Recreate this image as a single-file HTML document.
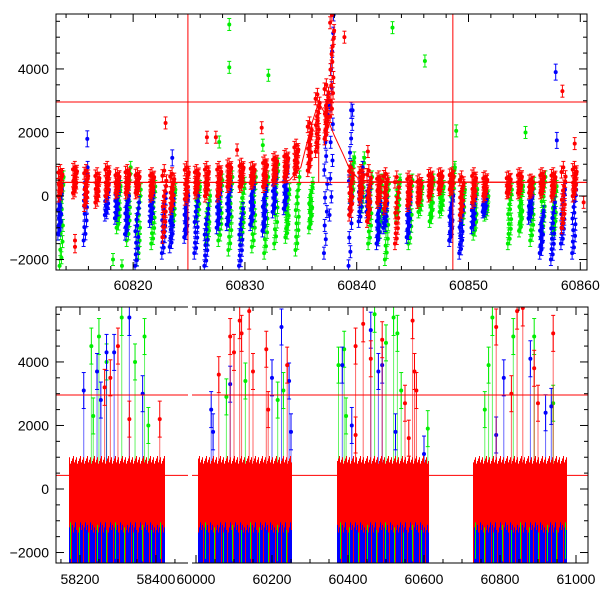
<!DOCTYPE html>
<html><head><meta charset="utf-8"><style>
html,body{margin:0;padding:0;background:#fff;}
svg text{font-family:"Liberation Sans",sans-serif;font-size:14px;fill:#000;}
</style></head><body>
<svg id="chart" width="600" height="600" viewBox="0 0 600 600" xmlns="http://www.w3.org/2000/svg">
<g id="topPanel"></g>
<g id="botPanel"></g>
</svg>
<script>
// ---------- TOP PANEL DATA ----------
const topNightMjd = [60813.5,60814.8,60815.8,60816.8,60817.7,60818.6,60819.5,60820.4,60821.7,60822.8,60823.5,60824.8,60825.7,60826.6,60827.7,60828.6,60829.7,60830.7,60831.8,60832.7,60833.7,60834.6,60835.8,60836.5,60837.3,60837.8,60839.5,60840.4,60841.1,60842.0,60842.6,60843.6,60844.7,60845.6,60846.6,60847.5,60848.5,60849.4,60850.5,60851.5,60853.6,60854.6,60855.6,60856.6,60857.6,60858.5,60859.5];
const topRedRange = [[0,800],[100,900],[-300,800],[-200,700],[0,900],[100,700],[100,800],[100,700],[0,700],[-1300,800],[-400,700],[-100,900],[100,800],[0,900],[0,900],[300,1000],[300,1000],[400,900],[300,1100],[500,1200],[600,1300],[700,1600],[800,2300],[1400,3200],[1800,3500],[2500,5700],[-600,900],[-100,800],[-800,800],[-200,600],[-400,700],[-1500,600],[-300,600],[-200,500],[0,700],[200,700],[200,700],[-600,600],[-200,700],[0,600],[100,600],[100,700],[100,500],[100,700],[0,700],[-1000,900],[0,900]];
const topGreenRange = [[-2200,600],null,null,null,null,[-1000,300],[-1400,900],[-2000,200],[-1500,300],null,[-900,200],null,[-700,300],[-1500,0],[-1400,500],[-1700,600],[-1300,400],[-1600,600],[-1800,600],[-1500,1000],[-1300,200],[-1700,600],[-1000,400],null,null,null,[-200,1200],[-500,1200],[-1500,600],[-1300,500],[-2000,400],[-600,500],[-1500,500],[-500,300],[-800,500],[-500,300],[0,900],[-800,200],[-1200,200],[-600,0],[-1500,200],[-1100,300],[-1400,400],[-1100,600],[-1200,300],null,null];
const topBlueRange = [[-1200,200],null,[-1400,900],null,[-600,200],[-700,300],[-1200,0],[-2200,-200],[-800,100],[-1800,100],[-1600,-100],[-1300,0],[-1800,0],[-2200,-400],[-1000,200],[-900,300],[-2200,-400],[-900,400],[-1100,300],[-500,700],[-400,900],null,null,null,[-1800,3000],[-600,5700],[-2200,2700],[-800,900],[-500,400],[-1500,-200],[-1000,-200],null,[-1300,0],null,null,null,[-1400,0],[-1800,-300],[-1000,0],[-500,-100],null,null,[-700,0],[-1800,-500],[-2000,-200],[-1500,200],[-1800,200]];
const topRedOutliers = [[60814.8,-1400],[60814.8,-1600],[60822.9,2300],[60831.5,2150],[60826.6,1850],[60827.4,1850],[60829.3,1450],[60841.0,1400],[60858.4,3300],[60859.5,1650],[60838.9,5000],[60860.3,-200]];
const topGreenOutliers = [[60828.6,5400],[60828.6,4050],[60832.1,3800],[60827.7,1700],[60831.6,1600],[60843.2,5300],[60846.1,4250],[60848.9,2050],[60855.1,2000],[60819.0,-2200],[60818.2,-2000]];
const topBlueOutliers = [[60815.9,1800],[60823.5,1200],[60857.8,3900],[60857.9,1750],[60839.5,2700]];
const modelMjd = [60813.1,60833.0,60834.0,60835.0,60835.5,60836.0,60836.6,60837.3,60838.0,60838.8,60839.3,60840.0,60841.0,60860.6];
const modelVal = [430,430,500,900,1600,2300,2960,2500,1900,1300,900,600,450,430];
const topHLines = [2960,430];
const topVLines = [60824.9,60848.6];

// ---------- BOTTOM PANEL DATA ----------
const seasonStart = [58170,60005,60370,60730];
const seasonEnd = [58420,60250,60610,60975];
const blueBand = [-2330,-600];
const greenBand = [-2200,-800];
const redBand = [-1050,800];
const botRedSpikes = [[58265,3200],[58280,3500],[58300,4500],[58330,2200],[58410,2200],[60090,4800],[60100,4300],[60115,5300],[60120,4900],[60140,5600],[60150,3700],[60185,4400],[60190,2500],[60240,3900],[60060,3600],[60420,4500],[60440,5200],[60460,4100],[60490,4700],[60550,2700],[60570,5300],[60575,3700],[60580,3100],[60790,5100],[60830,3000],[60845,5600],[60860,5700],[60890,3800],[60900,2700],[60940,4900],[60560,1600],[60420,1700]];
const botGreenSpikes = [[58230,4500],[58250,4800],[58270,4000],[58310,5400],[58345,4000],[58370,4800],[58380,2000],[58235,2300],[60130,3400],[60230,3100],[60215,2800],[60080,2900],[60375,3900],[60390,4400],[60395,2300],[60470,5500],[60500,4600],[60520,5400],[60530,4900],[60540,3100],[60610,1900],[60770,3900],[60780,5400],[60835,4800],[60890,4800],[60760,2500],[60940,2700]];
const botBlueSpikes = [[58210,3100],[58245,3700],[58255,2800],[58270,4300],[58290,4300],[58330,5400],[58365,3000],[60040,2500],[60045,1800],[60090,3300],[60200,3500],[60225,5100],[60245,3400],[60250,1800],[60385,3900],[60410,2000],[60460,5000],[60480,3700],[60490,3900],[60525,1800],[60600,1100],[60790,1700],[60810,3500],[60880,4100],[60920,2400],[60935,2600]];
const botHLines = [2960,430];

// ---------- HELPERS ----------
const NS = 'http://www.w3.org/2000/svg';
const COL = {r:'#ff0000', g:'#00ee00', b:'#0000ff'};
function mk(parent, tag, attrs){
  const e = document.createElementNS(NS, tag);
  for (const k in attrs) e.setAttribute(k, attrs[k]);
  parent.appendChild(e);
  return e;
}
const T = {x0:56, x1:587, y0:14, y1:270, mMin:60813.1, mMax:60860.6, vMin:-2330, vMax:5730};
function txTop(m){ return T.x0 + (m - T.mMin) / (T.mMax - T.mMin) * (T.x1 - T.x0); }
function tyTop(v){ return T.y1 - (v - T.vMin) / (T.vMax - T.vMin) * (T.y1 - T.y0); }
const B = {x0:56, x1:588, y0:307, y1:563, vMin:-2330, vMax:5730};
function txBot(m){
  if (m < 59000) return 56 + (m - 58137) * 0.38;
  return 192 + (m - 59989.5) * 0.38;
}
function tyBot(v){ return B.y1 - (v - B.vMin) / (B.vMax - B.vMin) * (B.y1 - B.y0); }
function clampY(y, y0, y1){ return Math.max(y0, Math.min(y1, y)); }

function errPoint(g, x, y, err, color, y0, y1, name){
  const ya = clampY(y - err, y0, y1), yb = clampY(y + err, y0, y1);
  const grp = mk(g, 'g', {});
  
  
  mk(grp, 'line', {x1:x, x2:x, y1:ya, y2:yb, stroke:color, 'stroke-width':1});
  if (ya > y0) mk(grp, 'line', {x1:x-2, x2:x+2, y1:ya, y2:ya, stroke:color, 'stroke-width':1});
  if (yb < y1) mk(grp, 'line', {x1:x-2, x2:x+2, y1:yb, y2:yb, stroke:color, 'stroke-width':1});
  if (y >= y0 && y <= y1) mk(grp, 'circle', {cx:x, cy:y, r:2, fill:color});
}

// ---------- DRAW TOP ----------
const topG = document.getElementById('topPanel');
const topClip = mk(topG, 'clipPath', {id:'clipTop'});
mk(topClip, 'rect', {x:T.x0, y:T.y0, width:T.x1-T.x0, height:T.y1-T.y0});
const topData = mk(topG, 'g', {'clip-path':'url(#clipTop)'});



const jitterOrder = [0,5,2,8,3,9,1,6,4,7,10,11];
function drawNights(ranges, color, key, nPts, off){
  ranges.forEach((rg, i) => {
    if (!rg) return;
    const m = topNightMjd[i];
    for (let k = 0; k < nPts; k++){
      const v = rg[0] + (rg[1] - rg[0]) * k / (nPts - 1);
      const mm = m + off - 0.18 + 0.36 * (jitterOrder[k % 12] / 11);
      errPoint(topData, txTop(mm), tyTop(v), 6, color, T.y0, T.y1, key + '-point');
    }
  });
}
drawNights(topGreenRange, COL.g, 'green', 12, 0.1);
drawNights(topBlueRange, COL.b, 'blue', 12, -0.05);
drawNights(topRedRange, COL.r, 'red', 14, 0);
topGreenOutliers.forEach(p => errPoint(topData, txTop(p[0]), tyTop(p[1]), 6, COL.g, T.y0, T.y1, 'green-outlier'));
topBlueOutliers.forEach(p => errPoint(topData, txTop(p[0]), tyTop(p[1]), 8, COL.b, T.y0, T.y1, 'blue-outlier'));
topRedOutliers.forEach(p => errPoint(topData, txTop(p[0]), tyTop(p[1]), 6, COL.r, T.y0, T.y1, 'red-outlier'));

topHLines.forEach(v => {
  const l = mk(topData, 'line', {x1:T.x0, x2:T.x1, y1:tyTop(v), y2:tyTop(v), stroke:'#ff0000', 'stroke-width':1});
  
  
});
topVLines.forEach(m => {
  const l = mk(topData, 'line', {x1:txTop(m), x2:txTop(m), y1:T.y0, y2:T.y1, stroke:'#ff0000', 'stroke-width':1});
  
  
});
const pk = mk(topData, 'line', {x1:txTop(60836.6), x2:txTop(60836.6), y1:tyTop(2960), y2:tyTop(430), stroke:'#ff0000', 'stroke-width':1});


const modelPath = mk(topData, 'polyline', {points: modelMjd.map((m,i)=>txTop(m)+','+tyTop(modelVal[i])).join(' '), fill:'none', stroke:'#ff0000', 'stroke-width':1});



const tf = mk(topG, 'rect', {x:T.x0, y:T.y0, width:T.x1-T.x0, height:T.y1-T.y0, fill:'none', stroke:'#000', 'stroke-width':1});


for (let m = 60814; m <= 60860; m += 2){
  const x = txTop(m), maj = (m % 10 === 0), len = maj ? 8 : 4;
  mk(topG, 'line', {x1:x, x2:x, y1:T.y1, y2:T.y1-len, stroke:'#000'});
  mk(topG, 'line', {x1:x, x2:x, y1:T.y0, y2:T.y0+len, stroke:'#000'});
  if (maj){
    const t = mk(topG, 'text', {x:x, y:290, 'text-anchor':'middle'});
    t.textContent = m;
    
    
  }
}
for (let v = -2000; v <= 5500; v += 500){
  const y = tyTop(v), maj = (v % 2000 === 0), len = maj ? 8 : 4;
  mk(topG, 'line', {x1:T.x0, x2:T.x0+len, y1:y, y2:y, stroke:'#000'});
  mk(topG, 'line', {x1:T.x1, x2:T.x1-len, y1:y, y2:y, stroke:'#000'});
  if (maj){
    const t = mk(topG, 'text', {x:49, y:y+5, 'text-anchor':'end'});
    t.textContent = v < 0 ? '\u2212' + (-v) : v;
    
    
  }
}

// ---------- DRAW BOTTOM ----------
const botG = document.getElementById('botPanel');
const botClip = mk(botG, 'clipPath', {id:'clipBot'});
mk(botClip, 'rect', {x:B.x0, y:B.y0, width:B.x1-B.x0, height:B.y1-B.y0});
const botData = mk(botG, 'g', {'clip-path':'url(#clipBot)'});



function band(rg, color, name, every, phase){
  seasonStart.forEach((s, i) => {
    const x0 = Math.round(txBot(s)), x1 = Math.round(txBot(seasonEnd[i]));
    const g = mk(botData, 'g', {stroke:color, 'stroke-width':1});
    
    
    for (let x = x0; x <= x1; x++){
      if ((x + phase) % every !== 0) continue;
      const wob = ((x * 37) % 7) * 40;
      const wobLo = ((x * 53) % 5) * 80;
      mk(g, 'line', {x1:x+0.5, x2:x+0.5, y1:tyBot(rg[0] - wobLo), y2:tyBot(rg[1] + wob)});
    }
  });
}
function spikes(arr, color, name){
  arr.forEach(p => {
    const x = txBot(p[0]), y = tyBot(p[1]);
    errPoint(botData, x, y, 18, color, B.y0, B.y1, name);
    mk(botData, 'line', {x1:x, x2:x, y1:y, y2:tyBot(800), stroke:color, 'stroke-width':1, opacity:0.6});
  });
}
band(blueBand, COL.b, 'blue-season-band', 1, 0);
band(greenBand, COL.g, 'green-season-band', 9, 2);
band([-2330, -900], COL.r, 'red-deep-band', 6, 1);
spikes(botGreenSpikes, COL.g, 'green-spike');
spikes(botBlueSpikes, COL.b, 'blue-spike');
band(redBand, COL.r, 'red-season-band', 1, 0);
spikes(botRedSpikes, COL.r, 'red-spike');
botHLines.forEach(v => {
  const l = mk(botData, 'line', {x1:B.x0, x2:B.x1, y1:tyBot(v), y2:tyBot(v), stroke:'#ff0000', 'stroke-width':1});
  
  
});

const bf = mk(botG, 'rect', {x:B.x0, y:B.y0, width:B.x1-B.x0, height:B.y1-B.y0, fill:'none', stroke:'#000', 'stroke-width':1});


const brk = mk(botG, 'rect', {x:188, y:B.y0-1, width:4, height:B.y1-B.y0+2, fill:'#fff'});



function botTick(m, maj){
  const x = txBot(m), len = maj ? 8 : 4;
  mk(botG, 'line', {x1:x, x2:x, y1:B.y1, y2:B.y1-len, stroke:'#000'});
  mk(botG, 'line', {x1:x, x2:x, y1:B.y0, y2:B.y0+len, stroke:'#000'});
  if (maj){
    const t = mk(botG, 'text', {x:x, y:584, 'text-anchor':'middle'});
    t.textContent = m;
    
    
  }
}
for (let m = 58150; m <= 58450; m += 50) botTick(m, m % 200 === 0);
for (let m = 60000; m <= 61000; m += 50) botTick(m, m % 200 === 0);
for (let v = -2000; v <= 5500; v += 500){
  const y = tyBot(v), maj = (v % 2000 === 0), len = maj ? 8 : 4;
  mk(botG, 'line', {x1:B.x0, x2:B.x0+len, y1:y, y2:y, stroke:'#000'});
  mk(botG, 'line', {x1:B.x1, x2:B.x1-len, y1:y, y2:y, stroke:'#000'});
  if (maj){
    const t = mk(botG, 'text', {x:49, y:y+5, 'text-anchor':'end'});
    t.textContent = v < 0 ? '\u2212' + (-v) : v;
    
    
  }
}
</script>
</body></html>
